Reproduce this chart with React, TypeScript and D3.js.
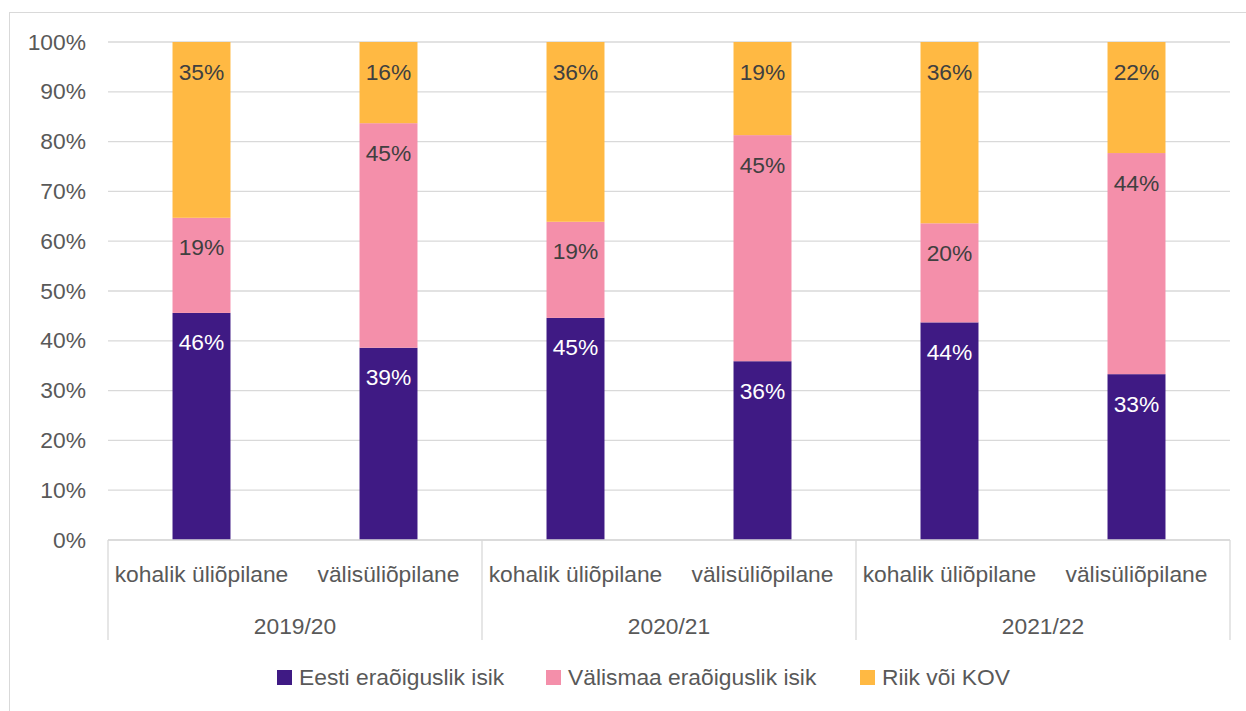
import React from 'react';
import * as d3 from 'd3';

const years = ['2019/20', '2020/21', '2021/22'];
const studentTypes = ['kohalik üliõpilane', 'välisüliõpilane'];
const seriesNames = ['Eesti eraõiguslik isik', 'Välismaa eraõiguslik isik', 'Riik või KOV'];
const colors = ['#3f1a84', '#f48faa', '#ffb943'];
const labelColors = ['#ffffff', '#404040', '#404040'];

// share per bar (order: 2019/20 kohalik, välis, 2020/21 kohalik, välis, 2021/22 kohalik, välis)
const eestiValues = [45.6, 38.6, 44.6, 35.9, 43.7, 33.3];
const valismaaValues = [19.1, 45.1, 19.3, 45.4, 19.9, 44.4];
const riikValues = [35.3, 16.3, 36.1, 18.7, 36.4, 22.3];
const yTicks = [0, 10, 20, 30, 40, 50, 60, 70, 80, 90, 100];

const W = 1246;
const H = 711;
const left = 108;
const right = 1230;
const top = 42;
const bottom = 540;
const font = "'Liberation Sans', Arial, sans-serif";
const fs = 22.8;

export default function App() {
  const barKeys = years.flatMap((y) => studentTypes.map((t) => `${y}|${t}`));
  const rows = barKeys.map((key, i) => ({
    key,
    eesti: eestiValues[i],
    valismaa: valismaaValues[i],
    riik: riikValues[i],
  }));

  const x = d3.scaleBand().domain(barKeys).range([left, right]).paddingInner(0.69).paddingOuter(0.345);
  const xGroup = d3.scaleBand().domain(years).range([left, right]);
  const y = d3.scaleLinear().domain([0, 100]).range([bottom, top]);
  const stack = d3.stack<any>().keys(['eesti', 'valismaa', 'riik']);
  const layers = stack(rows);

  // legend: square + text positions
  const legendX = [277, 546, 860];

  return (
    <svg width={W} height={H} style={{ position: 'absolute', left: 0, top: 0 }} fontFamily={font}>
      <rect x={0} y={0} width={W} height={H} fill="#fff" />
      <rect x={9.5} y={12.5} width={1240} height={710} fill="none" stroke="#d9d9d9" />
      {yTicks.map((t) => (
        <g key={t}>
          <line x1={left} x2={right} y1={y(t)} y2={y(t)} stroke="#d9d9d9" strokeWidth={1.3} />
          <text x={86} y={y(t) + 7.5} textAnchor="end" fontSize={fs} fill="#595959">
            {t}%
          </text>
        </g>
      ))}
      {layers.map((layer, li) => (
        <g key={layer.key}>
          {layer.map((d, i) => {
            const bx = x(rows[i].key)!;
            const v = d[1] - d[0];
            return (
              <g key={i}>
                <rect x={bx} y={y(d[1])} width={x.bandwidth()} height={y(d[0]) - y(d[1])} fill={colors[li]} />
                <text
                  x={bx + x.bandwidth() / 2}
                  y={y(d[1]) + 37.5}
                  textAnchor="middle"
                  fontSize={fs}
                  fill={labelColors[li]}
                >
                  {Math.round(v)}%
                </text>
              </g>
            );
          })}
        </g>
      ))}
      <line x1={left} x2={right} y1={bottom} y2={bottom} stroke="#d9d9d9" strokeWidth={1.3} />
      {years.map((yr) => (
        <line key={yr} x1={xGroup(yr)!} x2={xGroup(yr)!} y1={bottom} y2={640} stroke="#d9d9d9" strokeWidth={1.3} />
      ))}
      <line x1={right} x2={right} y1={bottom} y2={640} stroke="#d9d9d9" strokeWidth={1.3} />
      {barKeys.map((k) => (
        <text key={k} x={x(k)! + x.bandwidth() / 2} y={582} textAnchor="middle" fontSize={fs} fill="#595959">
          {k.split('|')[1]}
        </text>
      ))}
      {years.map((yr) => (
        <text key={yr} x={xGroup(yr)! + xGroup.bandwidth() / 2} y={634} textAnchor="middle" fontSize={fs} fill="#595959">
          {yr}
        </text>
      ))}
      {seriesNames.map((s, i) => (
        <g key={s}>
          <rect x={legendX[i]} y={670} width={15} height={15} fill={colors[i]} />
          <text x={legendX[i] + 22} y={684.5} fontSize={fs} fill="#595959">
            {s}
          </text>
        </g>
      ))}
    </svg>
  );
}
